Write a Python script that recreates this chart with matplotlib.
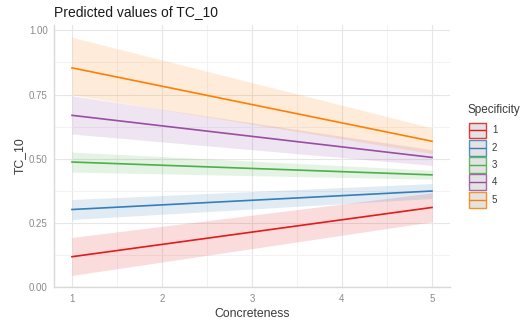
import matplotlib
matplotlib.use("Agg")
import matplotlib.pyplot as plt
from matplotlib.patches import Rectangle
import numpy as np

plt.rcParams["font.family"] = ["Liberation Sans", "DejaVu Sans"]

# Predicted values of TC_10 by Concreteness, per Specificity level (endpoints of linear fits)
concreteness = [1, 5]
levels = ["1", "2", "3", "4", "5"]
pred = {
    "1": [0.118, 0.310],
    "2": [0.302, 0.374],
    "3": [0.487, 0.437],
    "4": [0.669, 0.505],
    "5": [0.854, 0.568],
}
ci_low = {
    "1": [0.045, 0.254],
    "2": [0.263, 0.345],
    "3": [0.448, 0.420],
    "4": [0.596, 0.474],
    "5": [0.749, 0.520],
}
ci_high = {
    "1": [0.193, 0.367],
    "2": [0.341, 0.403],
    "3": [0.526, 0.455],
    "4": [0.745, 0.535],
    "5": [0.973, 0.620],
}
colors = ["#E41A1C", "#377EB8", "#4DAF4A", "#984EA3", "#FF7F00"]

W, H = 530, 323
fig = plt.figure(figsize=(W / 100, H / 100), dpi=100)
ax = fig.add_axes([54 / W, 1 - 287 / H, (450 - 54) / W, (287 - 25) / H])

for lvl, c in zip(levels, colors):
    ax.fill_between(concreteness, ci_low[lvl], ci_high[lvl], color=c, alpha=0.15, lw=0)
    ax.plot(concreteness, pred[lvl], color=c, lw=1.2)

ax.set_xlim(0.8, 5.2)
ax.set_ylim(0, 1.021)
ax.set_xticks([1, 2, 3, 4, 5])
ax.set_xticks([1.5, 2.5, 3.5, 4.5], minor=True)
ax.set_yticks([0, 0.25, 0.5, 0.75, 1.0])
ax.set_yticks([0.125, 0.375, 0.625, 0.875], minor=True)
ax.set_yticklabels(["0.00", "0.25", "0.50", "0.75", "1.00"])
ax.grid(which="major", color="#e6e6e6", lw=0.8)
ax.grid(which="minor", color="#f0f0f0", lw=0.6)
ax.set_axisbelow(True)
for s in ["top", "right"]:
    ax.spines[s].set_visible(False)
for s in ["left", "bottom"]:
    ax.spines[s].set_color("#d9d9d9")
    ax.spines[s].set_linewidth(1.0)
ax.tick_params(which="both", length=0, labelsize=7, labelcolor="#8a8a8a")
ax.tick_params(axis="y", pad=4.5)
ax.tick_params(axis="x", pad=5)

ax.set_xlabel("Concreteness", fontsize=8.8, color="#3a3a3a", labelpad=3)
ax.set_ylabel("TC_10", fontsize=8.8, color="#3a3a3a", labelpad=2)
fig.text(54 / W, 1 - 12 / H, "Predicted values of TC_10", fontsize=10,
         color="#1a1a1a", va="center", ha="left")

# Legend drawn in pixel space: gray key box with coloured border and line
lax = fig.add_axes([0, 0, 1, 1])
lax.set_xlim(0, W)
lax.set_ylim(H, 0)
lax.axis("off")
lax.text(468, 110.5, "Specificity", fontsize=8.5, color="#3a3a3a", va="center", ha="left")
for i, (lvl, c) in enumerate(zip(levels, colors)):
    top = 122.5 + i * 17.3
    lax.add_patch(Rectangle((469, top), 16.5, 15.8, facecolor="#dedede",
                            edgecolor=c, lw=1.0, alpha=0.85))
    lax.plot([470, 484.5], [top + 7.9, top + 7.9], color=c, lw=1.0)
    lax.text(492, top + 7.9, lvl, fontsize=7, color="#3a3a3a", va="center", ha="left")

fig.savefig("out.png", dpi=100)
